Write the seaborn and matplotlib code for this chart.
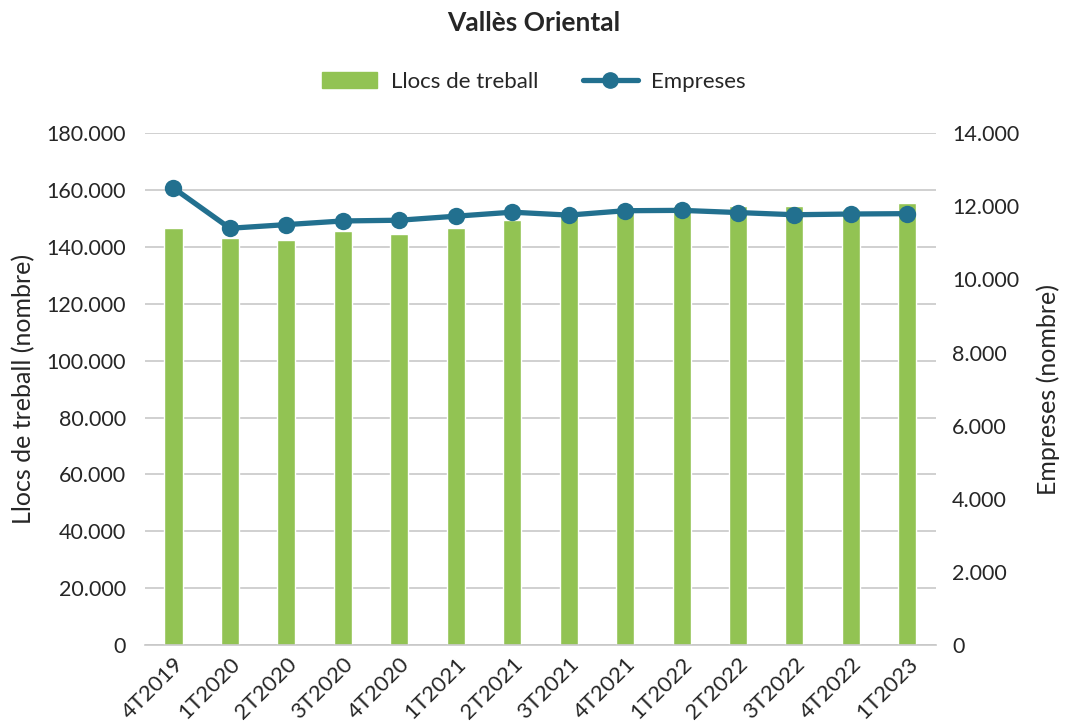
import pandas as pd
import seaborn as sns
import matplotlib.pyplot as plt
import numpy as np
from matplotlib.patches import Patch
from matplotlib.lines import Line2D

# data
periods = ['4T2019', '1T2020', '2T2020', '3T2020', '4T2020', '1T2021', '2T2021',
           '3T2021', '4T2021', '1T2022', '2T2022', '3T2022', '4T2022', '1T2023']
llocs = [146800, 143300, 142600, 145500, 144700, 146500, 149400,
         151500, 153200, 154400, 154400, 154300, 153500, 155600]
empreses = [12500, 11400, 11500, 11600, 11620, 11730, 11840,
            11760, 11880, 11890, 11830, 11770, 11790, 11800]

df = pd.DataFrame({'periode': periods, 'llocs': llocs, 'empreses': empreses})
df['pos'] = np.arange(len(df))

bar_color = '#92C353'
line_color = '#22708F'

sns.set_style('white')
plt.rcParams['font.family'] = ['Lato', 'DejaVu Sans']

fig, ax = plt.subplots(figsize=(10.68, 7.28), dpi=100)
fig.subplots_adjust(left=0.136, right=0.876, top=0.817, bottom=0.114)

sns.barplot(data=df, x='periode', y='llocs', color=bar_color, width=0.32,
            saturation=1, ax=ax, zorder=2)
ax.set_xlim(-0.5, len(df) - 0.5)
ax.set_ylim(0, 180000)
ax.set_yticks(np.arange(0, 180001, 20000))
ax.set_yticklabels([f'{int(v):,}'.replace(',', '.') for v in ax.get_yticks()], fontsize=15.5)
ax.grid(axis='y', color='#C8C8C8', linewidth=1.2, zorder=0)
ax.set_axisbelow(True)
ax.set_xlabel('')
ax.set_ylabel('Llocs de treball (nombre)', fontsize=18, labelpad=8)
ax.tick_params(axis='x', labelsize=16, length=0, pad=6)
ax.tick_params(axis='y', length=0, pad=14)
plt.setp(ax.get_xticklabels(), rotation=45, ha='right', rotation_mode='anchor')
for s in ['top', 'right', 'left']:
    ax.spines[s].set_visible(False)
ax.spines['bottom'].set_color('#C8C8C8')
ax.spines['bottom'].set_linewidth(1.2)

ax2 = ax.twinx()
sns.lineplot(data=df, x='pos', y='empreses', color=line_color, linewidth=3.8,
             marker='o', markersize=12.5, markeredgewidth=0, ax=ax2, zorder=3)
ax2.set_ylim(0, 14000)
ax2.set_yticks(np.arange(0, 14001, 2000))
ax2.set_yticklabels([f'{int(v):,}'.replace(',', '.') for v in ax2.get_yticks()], fontsize=15.5)
ax2.set_ylabel('Empreses (nombre)', fontsize=18, rotation=90, labelpad=12)
ax2.tick_params(axis='y', length=0, pad=12)
for s in ['top', 'right', 'left', 'bottom']:
    ax2.spines[s].set_visible(False)
ax.set_xlim(-0.5, len(df) - 0.5)

fig.suptitle('Vallès Oriental', fontsize=19, fontweight='bold', y=0.985)

handles = [Patch(color=bar_color, label='Llocs de treball'),
           Line2D([0], [0], color=line_color, linewidth=3.8, marker='o',
                  markersize=11, label='Empreses')]
fig.legend(handles=handles, loc='center', bbox_to_anchor=(0.5, 0.888), ncol=2,
           frameon=False, fontsize=16, handlelength=2.5, handletextpad=0.6,
           columnspacing=2.0)

fig.savefig('out.png', dpi=100)
